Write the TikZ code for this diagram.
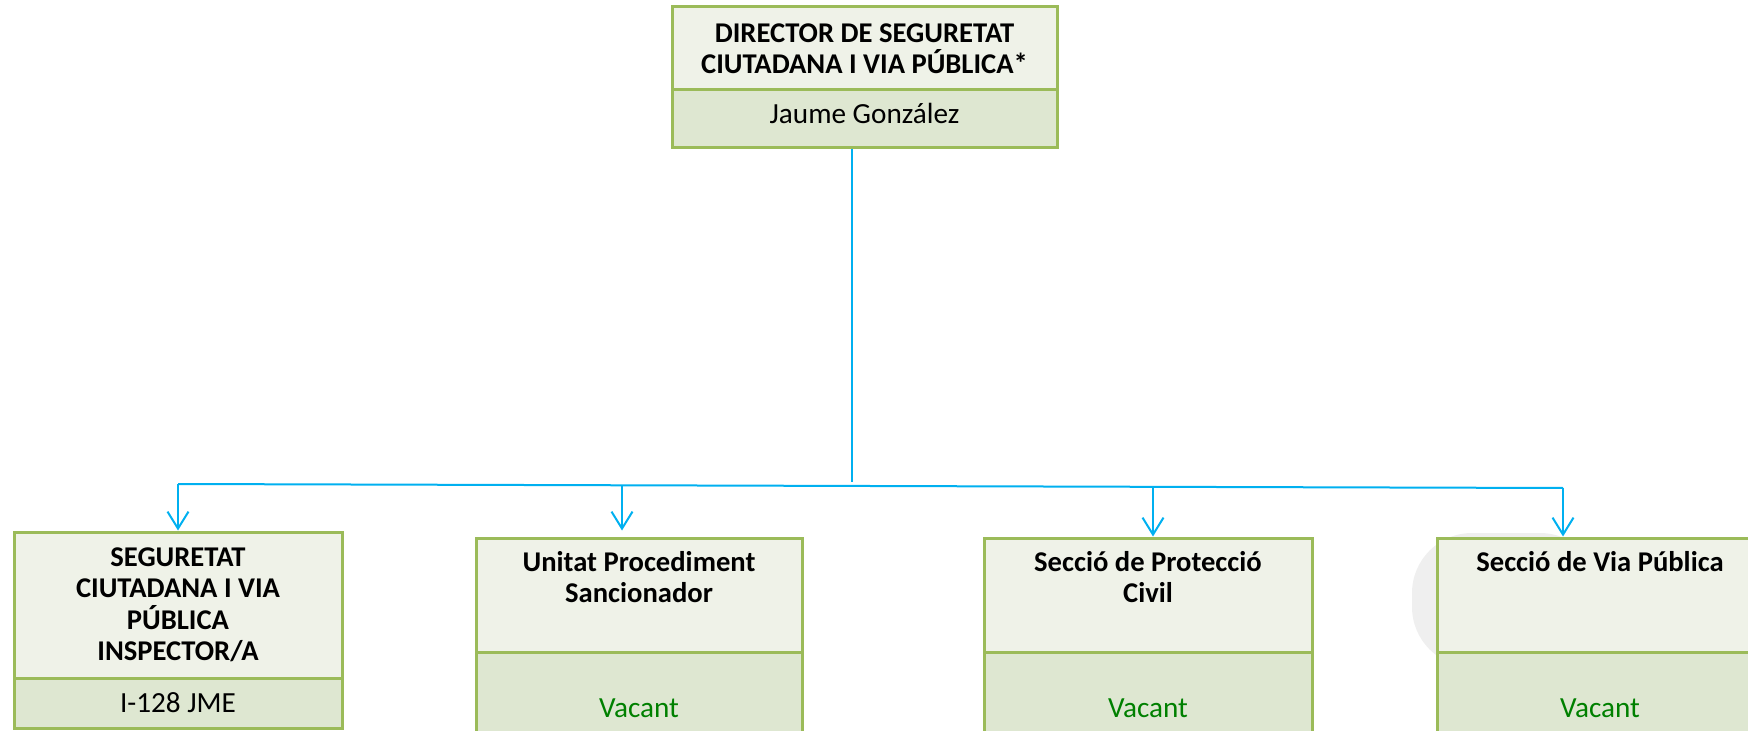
\documentclass[tikz,border=0pt]{standalone}
\usepackage{fontspec}
\setmainfont{Carlito}
\usetikzlibrary{arrows.meta,fit,calc}
\definecolor{lnblue}{RGB}{0,176,240}
\definecolor{bord}{RGB}{155,187,89}
\definecolor{upfill}{RGB}{239,242,232}
\definecolor{lofill}{RGB}{222,231,209}
\definecolor{vacgreen}{RGB}{0,128,0}
\definecolor{blob}{RGB}{239,239,239}
\begin{document}
\begin{tikzpicture}[x=0.5pt,y=-0.5pt,
  upbox/.style={draw=bord,line width=1.5pt,fill=upfill,inner sep=0pt},
  lobox/.style={draw=bord,line width=1.5pt,fill=lofill,inner sep=0pt},
  ttl/.style={font=\bfseries\fontsize{14.3}{15.75}\selectfont,align=center,inner sep=0pt},
  nm/.style={font=\fontsize{14.6}{16}\selectfont,inner sep=0pt},
  vac/.style={nm,text=vacgreen},
  conn/.style={draw=lnblue,line width=1pt},
  arr/.style={conn,-{Straight Barb[length=8.5pt,width=10.5pt]}}]
\useasboundingbox (0,0) rectangle (1748,731);
\clip (0,0) rectangle (1748,731);
\fill[blob,rounded corners=30pt] (1412,533) rectangle (1600,667);
% top box
\node[upbox,fit={(672,7)(1057,90)}] (dirT) {};
\node[lobox,fit={(672,90)(1057,148)}] (dirB) {};
\node[ttl] (dirTt) at (dirT.center) {DIRECTOR DE SEGURETAT\\CIUTADANA I VIA PÚBLICA*};
\node[nm,anchor=base] (dirBt) at (864.5,124) {Jaume González};
% box 1
\node[upbox,fit={(14,532)(342,678)}] (b1T) {};
\node[lobox,fit={(14,678)(342,728)}] (b1B) {};
\node[ttl] (b1Tt) at (b1T.center) {SEGURETAT\\CIUTADANA I VIA\\PÚBLICA\\INSPECTOR/A};
\node[nm,anchor=base] (b1Bt) at (178,712) {I-128 JME};
% box 2
\node[upbox,fit={(476,538)(802,652)}] (b2T) {};
\node[lobox,fit={(476,652)(802,745)}] (b2B) {};
\node[ttl,anchor=base] (b2Tt) at (639,602.5) {Unitat Procediment\\Sancionador};
\node[vac,anchor=base] (b2Bt) at (639,717) {Vacant};
% box 3
\node[upbox,fit={(984,538)(1312,652)}] (b3T) {};
\node[lobox,fit={(984,652)(1312,745)}] (b3B) {};
\node[ttl,anchor=base] (b3Tt) at (1148,602.5) {Secció de Protecció\\Civil};
\node[vac,anchor=base] (b3Bt) at (1148,717) {Vacant};
% box 4
\node[upbox,fit={(1437,538)(1764,652)}] (b4T) {};
\node[lobox,fit={(1437,652)(1764,745)}] (b4B) {};
\node[ttl,anchor=base] (b4Tt) at (1600,571) {Secció de Via Pública};
\node[vac,anchor=base] (b4Bt) at (1600,717) {Vacant};
% connectors
\coordinate (hub) at (852,482);
\coordinate (hl) at (178,484);
\coordinate (hr) at (1563,488);
\coordinate (j2) at (622,485.3);
\coordinate (j3) at (1153,486.8);
\draw[conn] (dirB.south -| hub) -- (hub);
\draw[conn] (hl) -- (hr);
\draw[arr] (hl) -- (hl |- b1T.north);
\draw[arr] (j2) -- ($(j2 |- b2T.north)+(0,-6)$);
\draw[arr] (j3) -- (j3 |- b3T.north);
\draw[arr] (hr) -- (hr |- b4T.north);
\end{tikzpicture}
\end{document}
